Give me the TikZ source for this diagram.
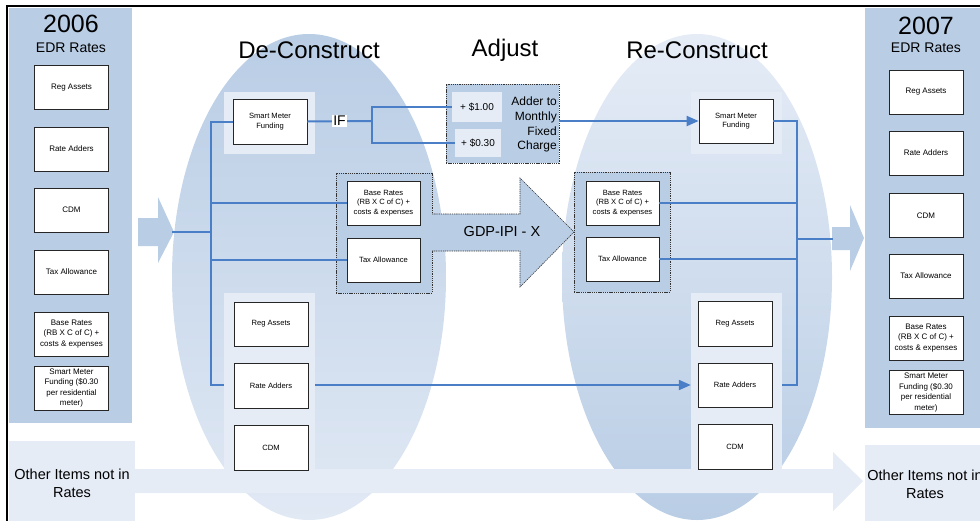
\documentclass[tikz,border=0pt]{standalone}
\usepackage{fontspec}
\setmainfont{Liberation Sans}
\usetikzlibrary{arrows.meta}
\definecolor{pblue}{HTML}{B9CDE5}
\definecolor{lblue}{HTML}{E5ECF6}
\definecolor{lineblue}{HTML}{4A7EC6}
\begin{document}
\begin{tikzpicture}[x=1pt,y=-1pt,
  wbox/.style={draw=black!85, fill=white, line width=0.7pt, align=center, inner sep=1pt,
    minimum width=73pt, minimum height=44pt, font=\fontsize{7.6}{9.7}\selectfont},
  pbox/.style={wbox, minimum width=74pt, font=\fontsize{8}{10.6}\selectfont},
  lbox/.style={fill=lblue, inner sep=0pt},
  dbox/.style={draw=black!80, fill=pblue, line width=0.6pt, dash pattern=on 1.3pt off 0.9pt, inner sep=0pt},
  dline/.style={draw=black!80, line width=0.6pt, dash pattern=on 1.3pt off 0.9pt},
  conn/.style={draw=lineblue, line width=2pt},
  tip/.style={-{Triangle[length=12pt,width=10pt]}},
  ttl/.style={font=\fontsize{24}{28}\selectfont},
  big/.style={font=\fontsize{14.5}{18}\selectfont, align=center},
]
\useasboundingbox (0,0) rectangle (980,520);
% frame
\draw[line width=2.5pt] (7,525) -- (7,6) -- (990,6);
% side panels
\fill[pblue] (9,8) rectangle (132,423);
\fill[pblue] (865,8) rectangle (990,428);
\node[lbox, minimum width=126pt, minimum height=84pt, big] (othL) at (72,483) {Other Items not in\\Rates};
\node[lbox, minimum width=125pt, minimum height=85pt, big] (othR) at (927.5,487.5) {\strut};
\node[big] (othRt) at (925,484) {Other Items not in\\Rates};
% ellipses
\shade[top color=pblue, bottom color=lblue!90!pblue] (309,277) ellipse [x radius=137pt, y radius=243pt];
\shade[top color=lblue, bottom color=pblue] (697,277) ellipse [x radius=135pt, y radius=243pt];
% bottom band arrow
\fill[lblue] (135,469) -- (833,469) -- (833,452) -- (863,481) -- (833,511) -- (833,493) -- (135,493) -- cycle;
% in / out block arrows
\fill[pblue] (138,218) -- (158,218) -- (158,197) -- (174,232) -- (158,263) -- (158,246) -- (138,246) -- cycle;
\fill[pblue] (832,227) -- (850,227) -- (850,205) -- (864,238) -- (850,271) -- (850,250) -- (832,250) -- cycle;
% titles
\node[font=\fontsize{25}{28}\selectfont] (y06) at (71,24) {2006};
\node[font=\fontsize{14}{16}\selectfont] (edr06) at (71,48) {EDR Rates};
\node[font=\fontsize{25}{28}\selectfont] (y07) at (926,26) {2007};
\node[font=\fontsize{14}{16}\selectfont] (edr07) at (926,48) {EDR Rates};
\node[ttl] (tdc) at (309,50) {De-Construct};
\node[ttl] (tad) at (505,50) {Adjust};
\node[ttl] (trc) at (697,50) {Re-Construct};
% light boxes
\node[lbox, minimum width=91pt, minimum height=62pt] (smLL) at (269.5,123) {};
\node[lbox, minimum width=91pt, minimum height=62pt] (smRL) at (736.5,123) {};
\node[lbox, minimum width=91pt, minimum height=184pt] (lowL) at (269.5,385) {};
\node[lbox, minimum width=91pt, minimum height=185pt] (lowR) at (736.5,385) {};
% dashed boxes
\node[dbox, minimum width=96pt, minimum height=120pt] (dL) at (384,233) {};
\node[dbox, minimum width=96pt, minimum height=120pt] (dR) at (622,232) {};
\node[dbox, minimum width=113pt, minimum height=79pt] (adj) at (502.5,123.5) {};
\node[lbox, minimum width=50pt, minimum height=30pt, font=\fontsize{10}{12}\selectfont] (p1) at (477,107) {+ \$1.00};
\node[lbox, minimum width=46pt, minimum height=28pt, font=\fontsize{10}{12}\selectfont] (p2) at (478,143) {+ \$0.30};
\node[anchor=east, align=right, inner sep=0pt, font=\fontsize{12}{14.8}\selectfont] (adder) at (557,124.5) {Adder to\\Monthly\\Fixed\\Charge};
% GDP arrow
\fill[pblue] (432,214) -- (520,214) -- (520,178) -- (574,232) -- (520,287) -- (520,251) -- (432,251) -- cycle;
\draw[dline] (432,214) -- (520,214) -- (520,178) -- (574,232) -- (520,287) -- (520,251) -- (432,251);
\node[font=\fontsize{14.5}{17}\selectfont] (gdp) at (502,232) {GDP-IPI - X};
% white boxes: left panel
\node[pbox] (l1) at (71.5,87.5) {Reg Assets};
\node[pbox] (l2) at (71.5,149) {Rate Adders};
\node[pbox] (l3) at (71.5,210) {CDM};
\node[pbox] (l4) at (71.5,272) {Tax Allowance};
\node[pbox] (l5) at (71.5,334) {Base Rates\\(RB X C of C) +\\costs \& expenses};
\node[pbox] (l6) at (71.5,388) {Smart Meter\\Funding (\$0.30\\per residential\\meter)};
% right panel
\node[pbox] (r1) at (926,92) {Reg Assets};
\node[pbox] (r2) at (926,153) {Rate Adders};
\node[pbox] (r3) at (926,215.5) {CDM};
\node[pbox] (r4) at (926,276) {Tax Allowance};
\node[pbox] (r5) at (926,338) {Base Rates\\(RB X C of C) +\\costs \& expenses};
\node[pbox] (r6) at (926,392.5) {Smart Meter\\Funding (\$0.30\\per residential\\meter)};
% middle boxes
\node[wbox, minimum width=74pt, minimum height=45pt] (smL) at (270,121.5) {Smart Meter\\Funding};
\node[wbox, minimum width=74pt, minimum height=44pt] (smR) at (736,121) {Smart Meter\\Funding};
\node[wbox] (brL) at (383.5,203) {Base Rates\\(RB X C of C) +\\costs \& expenses};
\node[wbox] (taL) at (383.5,260) {Tax Allowance};
\node[wbox] (brR) at (622.5,203) {Base Rates\\(RB X C of C) +\\costs \& expenses};
\node[wbox] (taR) at (622.5,259) {Tax Allowance};
\node[wbox, minimum width=74pt] (raL) at (271,324) {Reg Assets};
\node[wbox, minimum width=74pt, minimum height=45pt] (rdL) at (271,385.5) {Rate Adders};
\node[wbox, minimum width=74pt, minimum height=45pt] (cdL) at (271,447.5) {CDM};
\node[wbox, minimum width=74pt, minimum height=45pt] (raR) at (735,323.5) {Reg Assets};
\node[wbox, minimum width=74pt] (rdR) at (735,385) {Rate Adders};
\node[wbox, minimum width=74pt, minimum height=45pt] (cdR) at (735,446.5) {CDM};
% connectors
\coordinate (inL) at (172,232);
\coordinate (jL) at (211,232);
\coordinate (split) at (372,121);
\coordinate (jR) at (797,239);
\coordinate (outR) at (833,239);
\draw[conn] (inL) -- (jL);
\draw[conn] (smL.west) -| (jL) |- (lowL.west);
\draw[conn] (brL.west) -- (brL.west -| jL);
\draw[conn] (taL.west) -- (taL.west -| jL);
\draw[conn] (smL.east) -- (split);
\draw[conn] (p1.west) -| (split) |- (p2.west);
\draw[conn,tip] (adj.east |- smR.west) -- (smR.west);
\draw[conn,tip] (lowL.east) -- (lowR.west);
\draw[conn] (smR.east) -| (jR) |- (lowR.east);
\draw[conn] (brR.east) -- (brR.east -| jR);
\draw[conn] (taR.east) -- (taR.east -| jR);
\draw[conn] (jR) -- (outR);
\node[fill=white, inner sep=1.5pt, font=\fontsize{14}{16}\selectfont] (if) at (339.5,121) {IF};
\end{tikzpicture}
\end{document}
